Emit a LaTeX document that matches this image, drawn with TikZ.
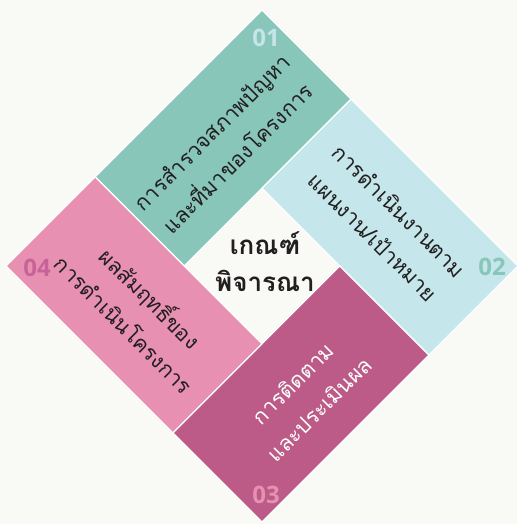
\documentclass[tikz,border=0pt]{standalone}
\usepackage{fontspec}
\newfontfamily\thaifont[Script=Thai]{Loma}
\newfontfamily\numfont{Open Sans}
\definecolor{bgcol}{HTML}{F9F9F5}
\definecolor{tealc}{HTML}{87C6B9}
\definecolor{lblue}{HTML}{C5E6EA}
\definecolor{dpink}{HTML}{BC5B87}
\definecolor{lpink}{HTML}{E890B1}
\definecolor{txtc}{HTML}{231F20}
\definecolor{num1}{HTML}{C5E5E8}
\definecolor{num4}{HTML}{C8639A}
\begin{document}
\begin{tikzpicture}[x=1pt,y=1pt,
  boxnode/.style={draw=white, line width=1.2pt, inner sep=0pt, minimum width=236pt, minimum height=126pt},
  boxtext/.style={inner sep=0pt, align=center, font=\thaifont\fontsize{21.5}{37}\selectfont},
  numlabel/.style={font=\numfont\bfseries\fontsize{24}{24}\selectfont, inner sep=0pt},
  centertext/.style={font=\thaifont\bfseries\fontsize{26}{37}\selectfont, align=center, text=txtc, inner sep=0pt}]
\fill[bgcol] (0,0) rectangle (517,524);
\useasboundingbox (0,0) rectangle (517,524);
\begin{scope}[shift={(262,258)}, rotate=45, transform shape]
  \node[boxnode, fill=tealc] (b1) at (63,118) {};
  \node[boxnode, fill=lblue, rotate=-90] (b2) at (118,-63) {};
  \node[boxnode, fill=dpink] (b3) at (-63,-118) {};
  \node[boxnode, fill=lpink, rotate=-90] (b4) at (-118,63) {};
  \node[boxtext, text=txtc] (t1) at (59,112) {การสำรวจสภาพปัญหา\\และที่มาของโครงการ};
  \node[boxtext, text=txtc, rotate=-90] (t2) at (118,-58) {การดำเนินงานตาม\\แผนงาน/เป้าหมาย};
  \node[boxtext, text=white] (t3) at (-61,-123) {การติดตาม\\และประเมินผล};
  \node[boxtext, text=txtc, rotate=-90] (t4) at (-118,56) {ผลสัมฤทธิ์ของ\\การดำเนินโครงการ};
\end{scope}
\node[centertext] (c) at (265,262) {เกณฑ์\\พิจารณา};
\node[numlabel, text=num1] (n1) at (266,486) {01};
\node[numlabel, text=tealc] (n2) at (492,257) {02};
\node[numlabel, text=lpink] (n3) at (266,29) {03};
\node[numlabel, text=num4] (n4) at (37,256) {04};
\end{tikzpicture}
\end{document}
